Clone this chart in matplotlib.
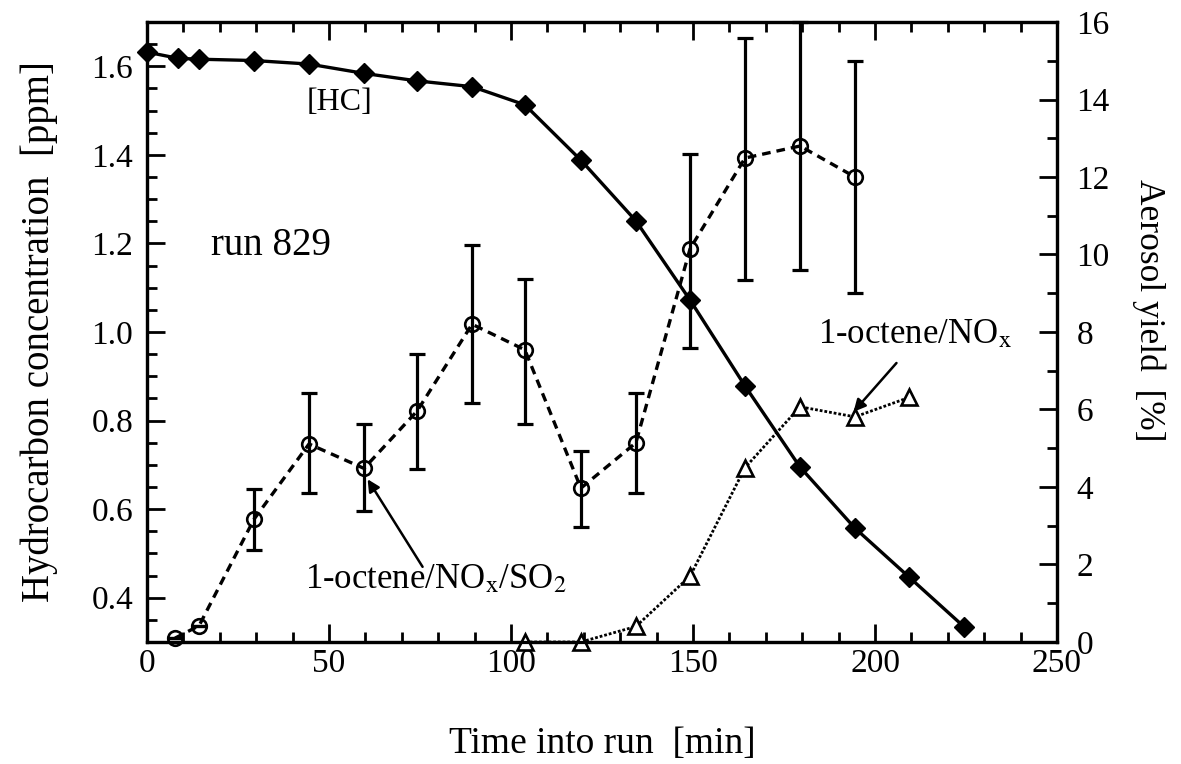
import numpy as np
import matplotlib
matplotlib.use("Agg")
import matplotlib.pyplot as plt
from matplotlib.ticker import MultipleLocator, FormatStrFormatter

plt.rcParams['font.family'] = ['Liberation Serif', 'DejaVu Serif']
plt.rcParams['mathtext.fontset'] = 'stix'

# hydrocarbon concentration [ppm], left axis
hc_time = [0, 8.5, 14.3, 29.4, 44.5, 59.6, 74.2, 89.3, 103.8, 119.2, 134.3, 149.2, 164.3, 179.4, 194.5, 209.3, 224.5]
hc_conc = [1.632, 1.618, 1.616, 1.613, 1.605, 1.584, 1.567, 1.554, 1.513, 1.388, 1.251, 1.072, 0.878, 0.695, 0.557, 0.447, 0.334]

# aerosol yield [%], 1-octene/NOx/SO2 (right axis)
so2_time = [7.7, 14.3, 29.4, 44.5, 59.6, 74.2, 89.3, 103.8, 119.2, 134.3, 149.2, 164.3, 179.4, 194.5]
so2_yield = [0.1, 0.42, 3.17, 5.11, 4.48, 5.96, 8.2, 7.54, 3.97, 5.14, 10.15, 12.49, 12.8, 12.0]
so2_low = [0.1, 0.42, 2.37, 3.84, 3.38, 4.46, 6.16, 5.63, 2.96, 3.84, 7.58, 9.34, 9.6, 9.0]
so2_high = [0.1, 0.42, 3.95, 6.42, 5.62, 7.43, 10.25, 9.38, 4.94, 6.43, 12.6, 15.6, 16.0, 15.0]

# aerosol yield [%], 1-octene/NOx (right axis)
nox_time = [103.8, 119.2, 134.3, 149.2, 164.3, 179.4, 194.5, 209.3]
nox_yield = [0.0, 0.0, 0.4, 1.7, 4.5, 6.07, 5.81, 6.31]

fs_tick = 24

fig = plt.figure(figsize=(11.81, 7.64), dpi=100)
ax = fig.add_axes([0.1245, 0.1597, 0.7705, 0.8115])
ax2 = ax.twinx()

ax.plot(hc_time, hc_conc, color='black', lw=2.4, marker='D', ms=10,
        mfc='black', mec='black', clip_on=False, zorder=5)

yerr = [np.array(so2_yield) - np.array(so2_low), np.array(so2_high) - np.array(so2_yield)]
ax2.errorbar(so2_time, so2_yield, yerr=yerr, fmt='none', ecolor='black',
             elinewidth=2.3, capsize=6, capthick=2.3, clip_on=False)
ax2.plot(so2_time, so2_yield, color='black', lw=2.4, ls=(0, (2.6, 1.8)),
         marker='o', ms=10.5, mfc='none', mec='black', mew=1.9, clip_on=False)
ax2.plot(nox_time, nox_yield, color='black', lw=2.0, ls=(0, (1, 0.7)),
         marker='^', ms=11, mfc='white', mec='black', mew=1.9, clip_on=False)

ax.set_xlim(0, 250)
ax.set_ylim(0.30, 1.70)
ax2.set_ylim(0, 16)

ax.xaxis.set_major_locator(MultipleLocator(50))
ax.xaxis.set_minor_locator(MultipleLocator(10))
ax.yaxis.set_major_locator(MultipleLocator(0.2))
ax.yaxis.set_minor_locator(MultipleLocator(0.05))
ax2.yaxis.set_major_locator(MultipleLocator(2))
ax2.yaxis.set_minor_locator(MultipleLocator(1))
ax.yaxis.set_major_formatter(FormatStrFormatter('%.1f'))

ax.tick_params(axis='x', which='both', direction='in', top=True, labelsize=fs_tick, pad=5)
ax.tick_params(axis='y', which='both', direction='in', right=False, labelsize=fs_tick, pad=10)
ax2.tick_params(axis='y', which='both', direction='in', labelsize=fs_tick, pad=14)
for a in (ax, ax2):
    a.tick_params(which='major', length=13, width=2)
    a.tick_params(which='minor', length=7, width=2)
    for s in a.spines.values():
        s.set_linewidth(2.3)

ax.set_xlabel('Time into run  [min]', fontsize=27, labelpad=34)
ax.set_ylabel('Hydrocarbon concentration  [ppm]', fontsize=28, labelpad=24)
ax2.set_ylabel('Aerosol yield  [%]', fontsize=25.5, rotation=270)
ax2.yaxis.set_label_coords(1.119, 0.535)

ax.text(52.9, 1.519, '[HC]', fontsize=23, ha='center', va='center')
ax.text(34, 1.196, 'run 829', fontsize=28, ha='center', va='center')

ax2.text(79.5, 1.6, '1-octene/NO$_\\mathrm{x}$/SO$_2$', fontsize=25, ha='center', va='center')
ax2.annotate('', xy=(60.6, 4.2), xytext=(75.7, 1.94),
             arrowprops=dict(arrowstyle='-|>', color='black', lw=1.8,
                             mutation_scale=18, shrinkA=0, shrinkB=0))
ax2.text(211, 7.92, '1-octene/NO$_\\mathrm{x}$', fontsize=25, ha='center', va='center')
ax2.annotate('', xy=(194.1, 5.94), xytext=(205.9, 7.2),
             arrowprops=dict(arrowstyle='-|>', color='black', lw=1.8,
                             mutation_scale=18, shrinkA=0, shrinkB=0))

plt.savefig('out.png', dpi=100)
